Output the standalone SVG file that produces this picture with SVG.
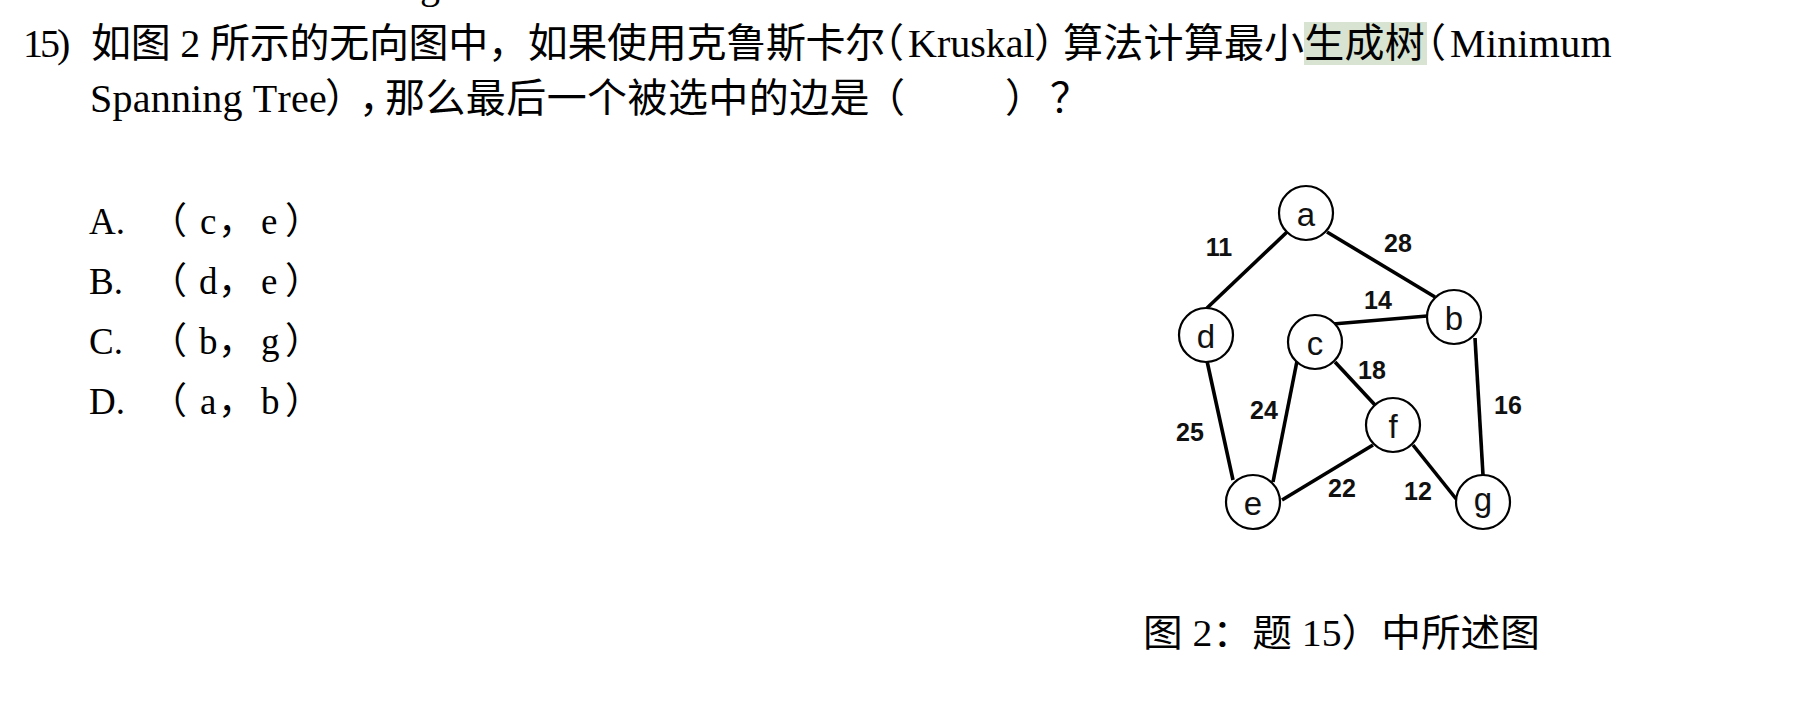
<svg xmlns="http://www.w3.org/2000/svg" width="1802" height="714" viewBox="0 0 1802 714">
  <style>
    .q { font-family: 'Liberation Serif', 'Noto Sans CJK SC', serif; font-size: 40px; fill: #000; }
    .opt { font-family: 'Liberation Serif', 'Noto Sans CJK SC', serif; font-size: 37px; fill: #000; }
    .cap { font-family: 'Liberation Serif', 'Noto Sans CJK SC', serif; font-size: 38px; fill: #000; }
    .node circle { fill: #fff; stroke: #000; stroke-width: 2.2; }
    .node text { font-family: 'Liberation Sans', Arial, sans-serif; font-size: 33px; fill: #111; text-anchor: middle; }
    .edge { stroke: #000; stroke-width: 3.6; stroke-linecap: butt; }
    .w { font-family: 'Liberation Sans', Arial, sans-serif; font-size: 25px; font-weight: bold; fill: #111; text-anchor: middle; }
  </style>
  <rect width="1802" height="714" fill="#fff"/>

  <!-- clipped fragment of previous line -->
  <text class="q" x="420" y="-2">g</text>

  <g id="question">
    <rect x="1304" y="22" width="123" height="43" fill="#d8e3d2"/>
    <text class="q" y="57" x="23 40 57 71 91 130.7 170.4 180.3 200.2 210.1 249.8 289.5 329.2 368.9 408.6 448.3 488 527.7 567.4 607.1 646.8 686.5 726.2 765.9 805.6 845.3 864 908 936.9 950.2 970.2 985.8 1005.8 1023.6 1034 1063 1103.2 1143.4 1183.7 1223.9 1264.1 1304.3 1344.6 1384.8 1406 1450 1486 1497.3 1517.5 1528.8 1560.3 1580.5">15) 如图 2 所示的无向图中，如果使用克鲁斯卡尔（Kruskal）算法计算最小生成树（Minimum</text>
    <text class="q" y="112" x="90 112.5 132.7 150.7 170.9 191.1 202.3 222.5 242.7 252.8 277.5 291 309 325 359 385 425.4 465.8 506.3 546.7 587.1 627.5 667.9 708.3 748.8 789.2 829.6 865 1005 1050">Spanning Tree），那么最后一个被选中的边是（）？</text>
  </g>

  <g id="options">
    <text class="opt" x="89" y="234">A.</text>
    <text class="opt" y="234" x="150 200 218 252 261 285">（c， e）</text>
    <text class="opt" x="89" y="294">B.</text>
    <text class="opt" y="294" x="150 199 218 252 261 285">（d， e）</text>
    <text class="opt" x="89" y="354">C.</text>
    <text class="opt" y="354" x="150 199 218 252 261 285">（b， g）</text>
    <text class="opt" x="89" y="414">D.</text>
    <text class="opt" y="414" x="150 200 218 252 261 285">（a， b）</text>
  </g>

  <g id="connectors">
    <line class="edge" x1="1287" y1="232" x2="1207" y2="308"/>
    <line class="edge" x1="1327" y1="232" x2="1435" y2="297"/>
    <line class="edge" x1="1333" y1="324" x2="1427" y2="316"/>
    <line class="edge" x1="1475" y1="338" x2="1483" y2="475"/>
    <line class="edge" x1="1207" y1="361" x2="1233" y2="480"/>
    <line class="edge" x1="1297" y1="361" x2="1273" y2="482"/>
    <line class="edge" x1="1335" y1="362" x2="1375" y2="405"/>
    <line class="edge" x1="1282" y1="500" x2="1373" y2="445"/>
    <line class="edge" x1="1413" y1="445" x2="1457" y2="500"/>
  </g>

  <g id="edge-labels">
    <text class="w" x="1219" y="256">11</text>
    <text class="w" x="1398" y="252">28</text>
    <text class="w" x="1378" y="309">14</text>
    <text class="w" x="1372" y="379">18</text>
    <text class="w" x="1508" y="414">16</text>
    <text class="w" x="1264" y="419">24</text>
    <text class="w" x="1190" y="441">25</text>
    <text class="w" x="1342" y="497">22</text>
    <text class="w" x="1418" y="500">12</text>
  </g>

  <g id="node-a" class="node"><circle cx="1306" cy="213" r="27"/><text x="1306" y="226">a</text></g>
  <g id="node-b" class="node"><circle cx="1454" cy="317" r="27"/><text x="1454" y="330">b</text></g>
  <g id="node-c" class="node"><circle cx="1315" cy="342" r="27"/><text x="1315" y="355">c</text></g>
  <g id="node-d" class="node"><circle cx="1206" cy="335" r="27"/><text x="1206" y="348">d</text></g>
  <g id="node-e" class="node"><circle cx="1253" cy="502" r="27"/><text x="1253" y="515">e</text></g>
  <g id="node-f" class="node"><circle cx="1393" cy="425" r="27"/><text x="1393" y="438">f</text></g>
  <g id="node-g" class="node"><circle cx="1483" cy="502" r="27"/><text x="1483" y="511">g</text></g>

  <g id="caption">
    <text class="cap" x="1143" y="646" textLength="397" lengthAdjust="spacingAndGlyphs">图 2：题 15）中所述图</text>
  </g>
</svg>
